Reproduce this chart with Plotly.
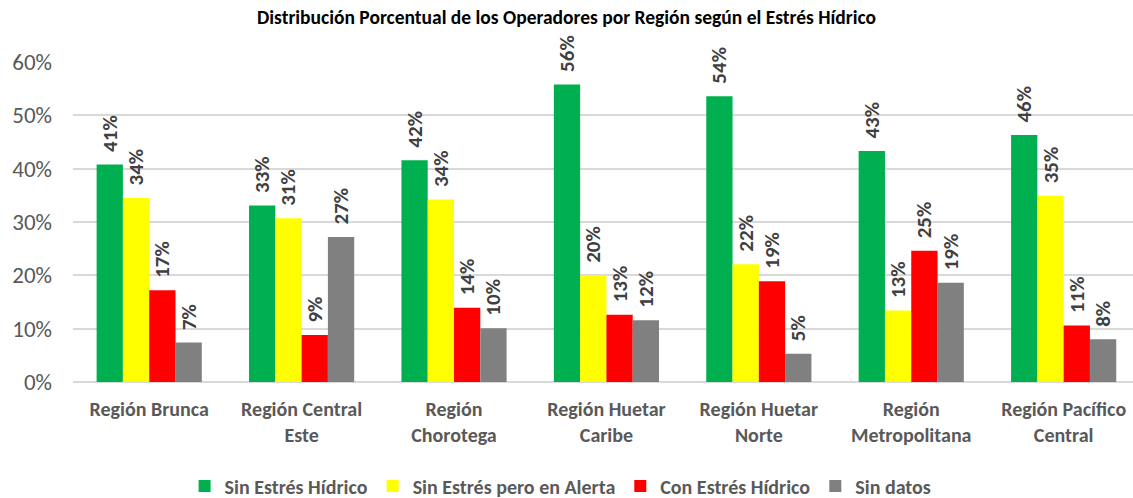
import plotly.graph_objects as go

categories = ["Región Brunca", "Región Central<br>Este", "Región<br>Chorotega",
              "Región Huetar<br>Caribe", "Región Huetar<br>Norte", "Región<br>Metropolitana",
              "Región Pacífico<br>Central"]
series_names = ["Sin Estrés Hídrico", "Sin Estrés pero en Alerta", "Con Estrés Hídrico", "Sin datos"]
sin_estres = [0.408, 0.331, 0.416, 0.558, 0.536, 0.433, 0.463]
alerta = [0.345, 0.307, 0.342, 0.200, 0.221, 0.134, 0.349]
con_estres = [0.172, 0.088, 0.139, 0.126, 0.189, 0.246, 0.106]
sin_datos = [0.074, 0.272, 0.101, 0.116, 0.053, 0.186, 0.080]
colors = ["#00B050", "#FFFF00", "#FF0000", "#808080"]
y_ticks = [0, 0.1, 0.2, 0.3, 0.4, 0.5, 0.6]

FONT = "Carlito, Lato, 'Open Sans', sans-serif"
fig = go.Figure()
for name, vals, col in zip(series_names, [sin_estres, alerta, con_estres, sin_datos], colors):
    fig.add_trace(go.Bar(
        x=list(range(len(categories))), y=vals, name=name,
        marker=dict(color=col, line=dict(width=0)),
        text=["\u00a0\u00a0" + f"{round(v*100):.0f}%" for v in vals],
        textposition="outside", textangle=-90, cliponaxis=False,
        constraintext="none",
        textfont=dict(family=FONT, size=21, color="#404040", weight="bold"),
    ))

fig.update_layout(
    width=1133, height=498,
    margin=dict(l=73, r=0, t=62, b=116, autoexpand=False),
    paper_bgcolor="white", plot_bgcolor="white",
    barmode="group", bargap=0.31, bargroupgap=0,
    title=dict(text="<b>Distribución Porcentual de los Operadores por Región según el Estrés Hídrico</b>",
               x=0.5, xanchor="center", y=0.966, yanchor="middle",
               font=dict(family=FONT, size=19.5, color="#000000")),
    font=dict(family=FONT, color="#595959"),
    xaxis=dict(tickmode="array", tickvals=list(range(len(categories))), ticktext=["<b>"+c+"</b>" for c in categories],
               range=[-0.5, 6.455], showgrid=False, showline=False, ticks="", automargin=False,
               ticklabelstandoff=13,
               tickfont=dict(family=FONT, size=20, color="#595959")),
    yaxis=dict(range=[0, 0.6], tickvals=y_ticks, tickformat=".0%", automargin=False,
               showgrid=True, gridcolor="#D9D9D9", gridwidth=1.5,
               zeroline=True, zerolinecolor="#D9D9D9", zerolinewidth=1.5,
               showline=False, ticks="", ticklabelstandoff=20,
               tickfont=dict(family=FONT, size=23, color="#595959")),
    legend=dict(orientation="h", x=0.46, xanchor="center", y=-0.325, yanchor="middle",
                font=dict(family=FONT, size=20, color="#595959", weight="bold"),
                itemwidth=30, traceorder="normal"),
    showlegend=True,
)
fig.write_html("out.html", config={"displayModeBar": False},
               post_script="document.body.style.margin='0';")
